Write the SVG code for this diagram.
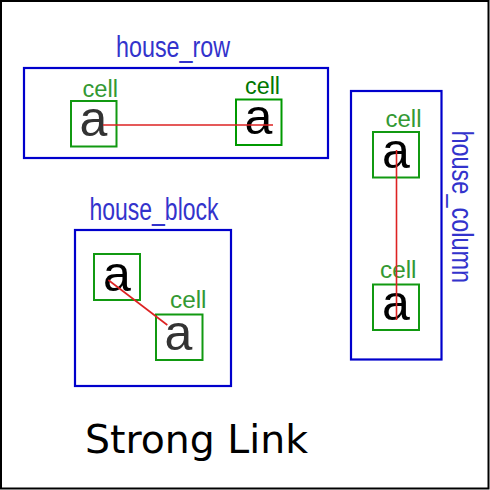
<svg xmlns="http://www.w3.org/2000/svg" width="490" height="490" viewBox="0 0 490 490">
<style>
.house{fill:none;stroke:#0000cc;stroke-width:2.2}
.hlabel{fill:#3333cc;font-family:"Liberation Sans",Arial,sans-serif}
.cellbox{fill:none;stroke:#119911;stroke-width:2}
.clabel{fill:#339933;font-family:"Liberation Sans",Arial,sans-serif;font-size:23.5px}
.val{font-family:"Liberation Sans",Arial,sans-serif;font-size:50px;text-anchor:middle;fill:#000}
.link{stroke:#dd2222;stroke-width:1.6;fill:none}
</style>
<rect x="1" y="1" width="487.5" height="487.5" fill="#fff" stroke="#000" stroke-width="2"/>

<g id="house_row">
  <rect class="house" x="24" y="68" width="304" height="90"/>
  <text class="hlabel" x="116" y="57" font-size="29" textLength="114" lengthAdjust="spacingAndGlyphs">house_row</text>
</g>
<g id="row_cell_1">
  <rect class="cellbox" x="71" y="101" width="45.5" height="45.5"/>
  <text class="clabel" x="82.5" y="96.5" textLength="35.5" lengthAdjust="spacingAndGlyphs">cell</text>
  <text class="val" x="93.5" y="135.7" style="fill:#333">a</text>
</g>
<g id="row_cell_2">
  <rect class="cellbox" x="236" y="99.5" width="45.5" height="45.5" style="stroke:#009900"/>
  <text class="clabel" x="245" y="94" textLength="35" lengthAdjust="spacingAndGlyphs" style="fill:#007700">cell</text>
  <text class="val" x="258.5" y="134.3">a</text>
</g>

<g id="house_block">
  <rect class="house" x="75" y="230" width="156" height="156"/>
  <text class="hlabel" x="89.5" y="219.8" font-size="31" textLength="129" lengthAdjust="spacingAndGlyphs">house_block</text>
</g>
<g id="block_cell_1">
  <rect class="cellbox" x="94" y="254" width="46" height="46"/>
  <text class="val" x="117" y="290.5">a</text>
</g>
<g id="block_cell_2">
  <rect class="cellbox" x="156" y="314.5" width="46.5" height="45.5"/>
  <text class="clabel" x="170" y="308.3" textLength="36.5" lengthAdjust="spacingAndGlyphs">cell</text>
  <text class="val" x="178.5" y="349.5" style="fill:#333">a</text>
</g>

<g id="house_column">
  <rect class="house" x="351" y="91" width="90.5" height="268.5"/>
  <text class="hlabel" transform="translate(451.5,130.5) rotate(90)" x="0" y="0" font-size="29" textLength="152.5" lengthAdjust="spacingAndGlyphs">house_column</text>
</g>
<g id="column_cell_1">
  <rect class="cellbox" x="373" y="132" width="46" height="45.5"/>
  <text class="clabel" x="385.5" y="126.7" textLength="36" lengthAdjust="spacingAndGlyphs">cell</text>
  <text class="val" x="396" y="168.3">a</text>
</g>
<g id="column_cell_2">
  <rect class="cellbox" x="373" y="284.5" width="46" height="45.5"/>
  <text class="clabel" x="380" y="278.3" textLength="36.5" lengthAdjust="spacingAndGlyphs">cell</text>
  <text class="val" x="395.8" y="320.3">a</text>
</g>

<g id="connectors">
  <line class="link" x1="103" y1="125" x2="273" y2="125"/>
  <line class="link" x1="108.3" y1="280" x2="167.3" y2="325"/>
  <line class="link" x1="396.5" y1="150" x2="396.5" y2="320"/>
</g>

<text id="title" x="85" y="453.3" font-family="DejaVu Sans,Verdana,sans-serif" font-size="39.5" textLength="223" lengthAdjust="spacingAndGlyphs" fill="#000">Strong Link</text>
</svg>
